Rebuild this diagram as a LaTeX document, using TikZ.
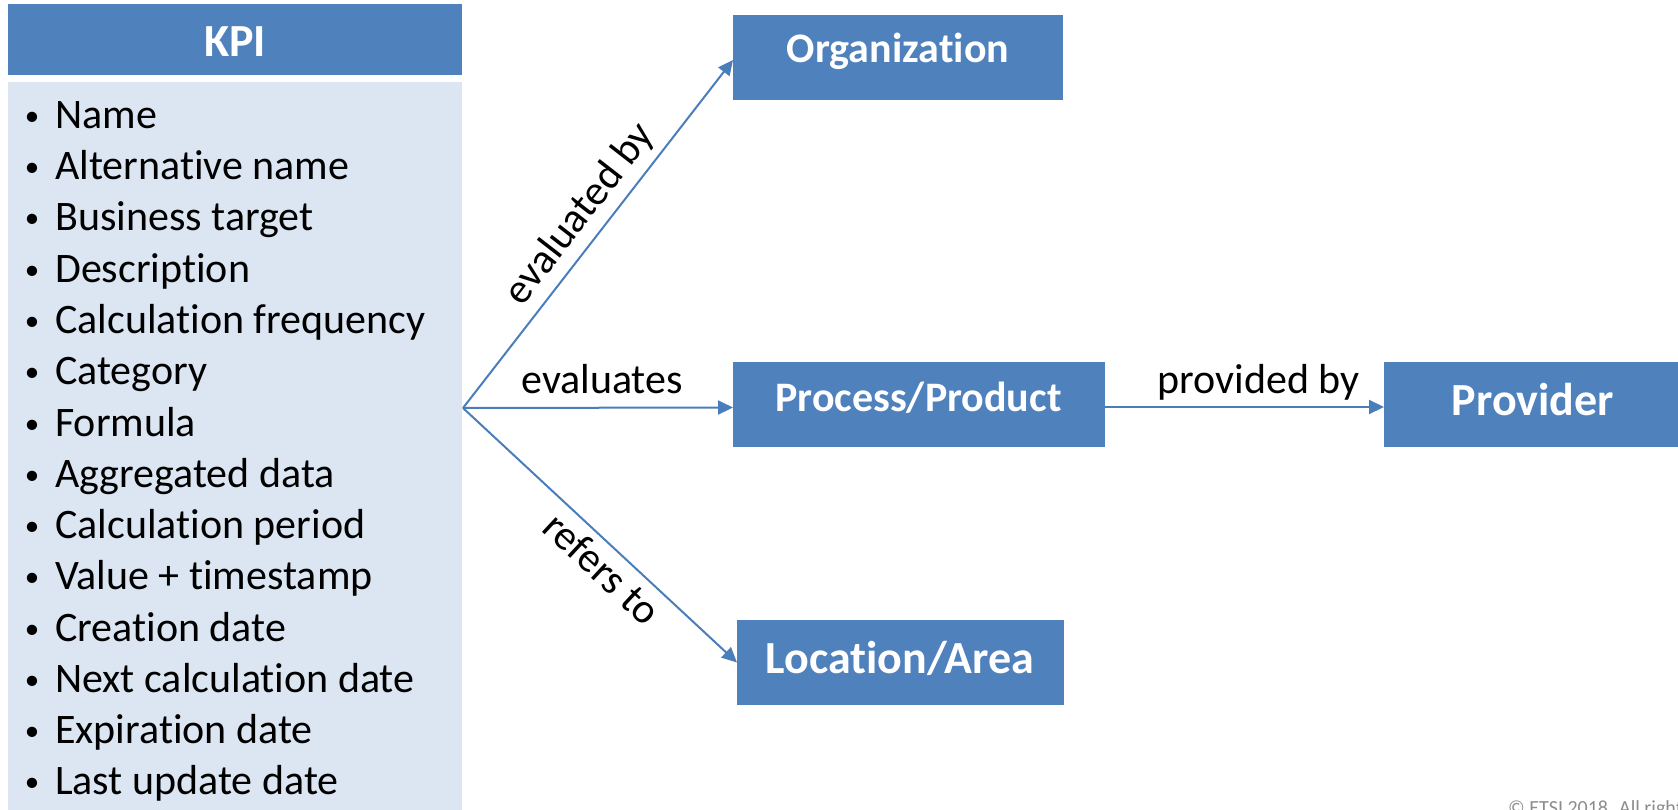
\documentclass[tikz,border=0pt]{standalone}
\usepackage{fontspec}
\setmainfont{Carlito}[Ligatures=NoCommon]
\usetikzlibrary{arrows.meta}
\definecolor{boxblue}{HTML}{4F81BD}
\definecolor{bodyblue}{HTML}{DCE6F2}
\definecolor{linkblue}{HTML}{4A7EBB}
\definecolor{copygray}{HTML}{8C8C8C}
\newcommand\bigbold{\bfseries\fontsize{46}{55}\selectfont}
\newcommand\midbold{\bfseries\fontsize{42}{50}\selectfont}
\newcommand\txtfont{\fontsize{42}{50}\selectfont}
\begin{document}
\begin{tikzpicture}[x=1pt,y=-1pt,
  box/.style={fill=boxblue, draw=none, inner sep=0pt, outer sep=0pt, minimum height=85pt},
  listbox/.style={fill=bodyblue, draw=none, inner sep=0pt, outer sep=0pt},
  boxlabel/.style={text=white, anchor=base, inner sep=0pt},
  item/.style={font=\txtfont, anchor=base west, inner sep=0pt, text=black},
  bul/.style={font=\fontsize{29}{34}\selectfont, anchor=base, inner sep=0pt, text=black},
  link/.style={draw=linkblue, line width=2pt, -{Triangle[length=15pt,width=14pt]}},
  lbl/.style={font=\txtfont, text=black, inner xsep=0pt, text depth=0pt, text height=0pt},
]
\useasboundingbox (0,0) rectangle (1678,810);
\clip (0,0) rectangle (1678,810);
% KPI
\node[box, minimum width=454pt, minimum height=71pt] (kpi) at (235,39.5) {};
\node[boxlabel, font=\bigbold] (kpit) at (235,57) {KPI};
\node[listbox, minimum width=454pt, minimum height=740pt, anchor=north west] (kpibody) at (8,82) {};
\foreach \t [count=\i from 0] in {Name, Alternative name, Business target, Description, Calculation frequency, Category, Formula, Aggregated data, Calculation period, Value + timestamp, Creation date, Next calculation date, Expiration date, Last update date}{
  \node[bul] (bu\i) at (32,125.5+51.25*\i) {•};
  \node[item] (it\i) at (55,128.5+51.25*\i) {\t};
}
% boxes
\node[box, minimum width=330pt] (org) at (898,57.5) {};
\node[boxlabel, font=\midbold] (orgt) at (898,63) {Organization};
\node[box, minimum width=372pt] (proc) at (919,404.5) {};
\node[boxlabel, font=\midbold] (proct) at (918.5,411) {Process/Product};
\node[box, minimum width=306pt] (prov) at (1537,404.5) {};
\node[boxlabel, font=\bigbold] (provt) at (1533,415) {Provider};
\node[box, minimum width=327pt] (loc) at (900.5,662.5) {};
\node[boxlabel, font=\bigbold] (loct) at (900,673) {Location/Area};
% connectors
\coordinate (o) at (463,408);
\draw[link] (o) -- node[lbl, sloped, anchor=south, inner ysep=14pt, pos=0.51] (l1) {evaluated by} ([yshift=-2.5pt]org.west);
\draw[link] (o) -- node[lbl, anchor=south, inner ysep=13pt, pos=0.515] (l2) {evaluates} ([yshift=-3pt]proc.west);
\draw[link] (o) -- node[lbl, sloped, anchor=north, inner ysep=36pt, pos=0.565] (l3) {refers to} (loc.west);
\draw[link] ([yshift=-2.5pt]proc.east) -- node[lbl, anchor=south, inner ysep=12.5pt, pos=0.55] (l4) {provided by} ([yshift=-2.5pt]prov.west);
% footer
\node[anchor=base west, inner sep=0pt, text=copygray, font=\fontsize{20}{24}\selectfont] (copy) at (1508,814.5) {© ETSI 2018. All rights reserved};
\end{tikzpicture}
\end{document}
